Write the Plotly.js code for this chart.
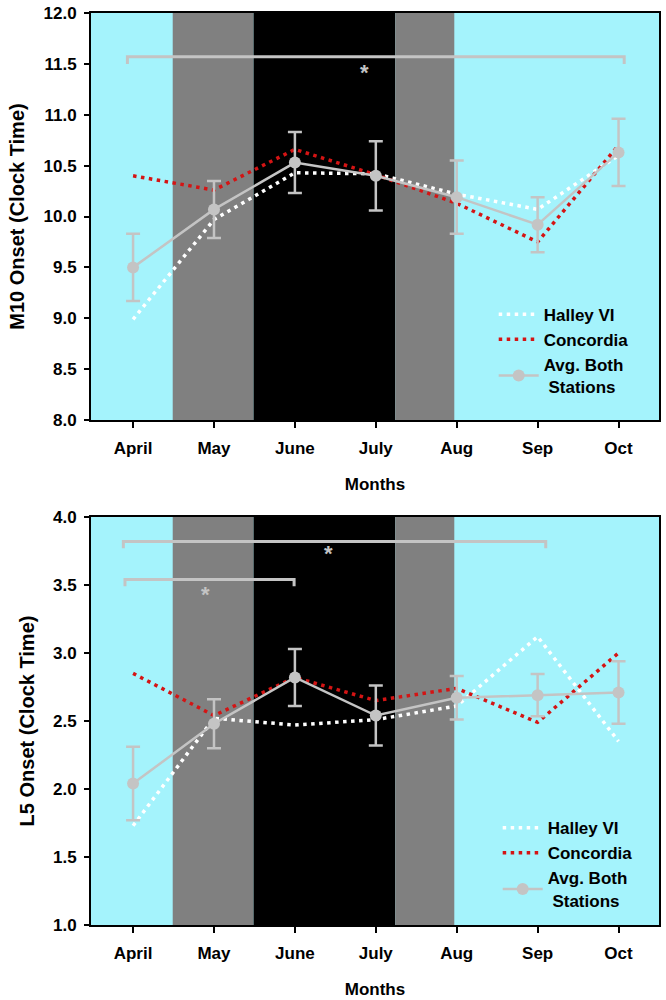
<!DOCTYPE html>
<html>
<head>
<meta charset="utf-8">
<script src="https://cdn.plot.ly/plotly-3.0.1.min.js"></script>
<style>
  html, body { margin: 0; padding: 0; background: #fff; }
  #chart { width: 666px; height: 1000px; }
</style>
</head>
<body>
<div id="chart"></div>
<script>
// ---- data ----
const months = ['April', 'May', 'June', 'July', 'Aug', 'Sep', 'Oct'];

const m10Halley    = [8.99, 9.97, 10.43, 10.42, 10.22, 10.07, 10.60];
const m10Concordia = [10.40, 10.26, 10.66, 10.41, 10.13, 9.75, 10.70];
const m10Avg       = [9.50, 10.07, 10.53, 10.40, 10.19, 9.92, 10.63];
const m10Err       = [0.33, 0.28, 0.30, 0.34, 0.36, 0.27, 0.33];

const l5Halley    = [1.73, 2.52, 2.47, 2.51, 2.61, 3.12, 2.35];
const l5Concordia = [2.85, 2.54, 2.82, 2.65, 2.74, 2.49, 3.00];
const l5Avg       = [2.04, 2.48, 2.82, 2.54, 2.67, 2.69, 2.71];
const l5Err       = [0.27, 0.18, 0.21, 0.22, 0.16, 0.155, 0.23];

// light periods (month-index positions): twilight start, polar night start, polar night end, twilight end
const seasonEdges = [0.49, 1.49, 3.24, 3.97];

// significance brackets: [xStart, xEnd, yTop, yEnd] and star [x, y]
const m10Brackets = [[-0.07, 6.07, 11.57, 11.50]];
const m10Stars    = [[2.86, 11.42]];
const l5Brackets  = [[-0.12, 5.10, 3.82, 3.77], [-0.10, 1.99, 3.54, 3.49]];
const l5Stars     = [[2.41, 3.73], [0.90, 3.43]];

const seriesNames = ['Halley VI', 'Concordia', 'Avg. Both<br>\u00A0Stations'];

// ---- styles ----
const CYAN = '#A4F3FC';
const GREY_BAND = '#808080';
const LIGHT = '#C4C4C4';
const RED = '#D41414';
const FONT = 'Liberation Sans, Arial, sans-serif';
const DOT = '3.5px,4.5px';

function traces(h, c, a, e, xa, ya, leg) {
  return [
    { x: months, y: h, type: 'scatter', mode: 'lines', name: seriesNames[0],
      xaxis: xa, yaxis: ya, legend: leg,
      line: { color: '#FFFFFF', width: 3.5, dash: DOT } },
    { x: months, y: c, type: 'scatter', mode: 'lines', name: seriesNames[1],
      xaxis: xa, yaxis: ya, legend: leg,
      line: { color: RED, width: 3.5, dash: DOT } },
    { x: months, y: a, type: 'scatter', mode: 'lines+markers', name: seriesNames[2],
      xaxis: xa, yaxis: ya, legend: leg,
      line: { color: LIGHT, width: 2.5 },
      marker: { color: LIGHT, size: 12 },
      error_y: { type: 'data', array: e, visible: true, color: LIGHT, thickness: 2.5, width: 7 } }
  ];
}

const data = [].concat(
  traces(m10Halley, m10Concordia, m10Avg, m10Err, 'x', 'y', 'legend'),
  traces(l5Halley, l5Concordia, l5Avg, l5Err, 'x2', 'y2', 'legend2')
);

function bands(xref, yref) {
  return [
    { type: 'rect', xref: xref, yref: yref + ' domain', x0: seasonEdges[0], x1: seasonEdges[1], y0: 0, y1: 1,
      fillcolor: GREY_BAND, line: { width: 0 }, layer: 'below' },
    { type: 'rect', xref: xref, yref: yref + ' domain', x0: seasonEdges[1], x1: seasonEdges[2], y0: 0, y1: 1,
      fillcolor: '#000000', line: { width: 0 }, layer: 'below' },
    { type: 'rect', xref: xref, yref: yref + ' domain', x0: seasonEdges[2], x1: seasonEdges[3], y0: 0, y1: 1,
      fillcolor: GREY_BAND, line: { width: 0 }, layer: 'below' }
  ];
}

function brackets(list, xref, yref) {
  return list.map(b => ({
    type: 'path', xref: xref, yref: yref,
    path: 'M ' + b[0] + ' ' + b[3] + ' L ' + b[0] + ' ' + b[2] + ' L ' + b[1] + ' ' + b[2] + ' L ' + b[1] + ' ' + b[3],
    line: { color: LIGHT, width: 3 }, layer: 'above'
  }));
}

function stars(list, xref, yref) {
  return list.map(s => ({
    x: s[0], y: s[1], xref: xref, yref: yref, text: '*', showarrow: false,
    font: { family: FONT, size: 22, color: LIGHT, weight: 'bold' }
  }));
}

const tickFont = { family: FONT, size: 17, color: '#000', weight: 'bold' };
const xTitleFont = { family: FONT, size: 17, color: '#000', weight: 'bold' };
const yTitleFont = { family: FONT, size: 20, color: '#000', weight: 'bold' };

function xAxis(anchor) {
  return {
    anchor: anchor, domain: [0, 1], type: 'category',
    range: [-0.52, 6.5], autorange: false,
    showgrid: false, zeroline: false,
    showline: true, linecolor: '#000', linewidth: 2, mirror: true,
    ticks: 'outside', ticklen: 6, tickwidth: 2, tickcolor: '#000',
    tickfont: tickFont, ticklabelstandoff: 6,
    title: { text: 'Months', font: xTitleFont, standoff: 21 }
  };
}

function yAxis(anchor, domain, range, title) {
  return {
    anchor: anchor, domain: domain, range: range, autorange: false,
    dtick: 0.5, tickformat: '.1f',
    showgrid: false, zeroline: false,
    showline: true, linecolor: '#000', linewidth: 2, mirror: true,
    ticks: 'outside', ticklen: 5, tickwidth: 2, tickcolor: '#000',
    tickfont: tickFont, ticklabelstandoff: 4,
    title: { text: title, font: yTitleFont, standoff: 13 }
  };
}

const legendBase = {
  bgcolor: 'rgba(0,0,0,0)', borderwidth: 0,
  font: { family: FONT, size: 17, color: '#000', weight: 'bold' },
  xanchor: 'left', yanchor: 'top', tracegroupgap: 0, itemwidth: 40
};

const layout = {
  width: 666, height: 1000,
  margin: { l: 91, r: 7, t: 13, b: 75 },
  paper_bgcolor: '#FFFFFF',
  plot_bgcolor: CYAN,
  showlegend: true,
  xaxis: xAxis('y'),
  yaxis: yAxis('x', [0.5537, 1], [8, 12], 'M10 Onset (Clock Time)'),
  xaxis2: xAxis('y2'),
  yaxis2: yAxis('x2', [0, 0.4474], [1, 4], 'L5 Onset (Clock Time)'),
  legend: Object.assign({ x: 0.709, y: 0.689 }, legendBase),
  legend2: Object.assign({ x: 0.716, y: 0.126 }, legendBase),
  shapes: [].concat(
    bands('x', 'y'), bands('x2', 'y2'),
    brackets(m10Brackets, 'x', 'y'), brackets(l5Brackets, 'x2', 'y2')
  ),
  annotations: [].concat(stars(m10Stars, 'x', 'y'), stars(l5Stars, 'x2', 'y2'))
};

Plotly.newPlot('chart', data, layout, { displayModeBar: false, staticPlot: true });
</script>
</body>
</html>
